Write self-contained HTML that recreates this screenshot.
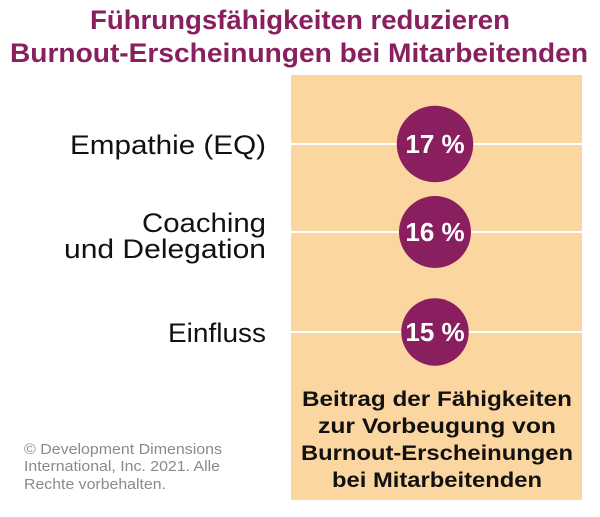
<!DOCTYPE html>
<html><head><meta charset="utf-8"><style>
html,body{margin:0;padding:0;background:#fff;}
svg{display:block;font-family:"Liberation Sans",sans-serif;}
</style></head><body>
<svg id="chart" width="600" height="517" viewBox="0 0 600 517">
<text x="300" y="29" text-anchor="middle" font-size="27" font-weight="bold" fill="#8a1f5f" textLength="420" lengthAdjust="spacingAndGlyphs">Führungsfähigkeiten reduzieren</text>
<text x="299" y="62" text-anchor="middle" font-size="27" font-weight="bold" fill="#8a1f5f" textLength="578" lengthAdjust="spacingAndGlyphs">Burnout-Erscheinungen bei Mitarbeitenden</text>
<rect x="291" y="75" width="291" height="425" fill="#fcd6a0"/>
<g id="rows"></g>
<g font-size="21" font-weight="bold" fill="#111" text-anchor="middle">
<text x="437" y="406" textLength="270" lengthAdjust="spacingAndGlyphs">Beitrag der Fähigkeiten</text>
<text x="437" y="433" textLength="238" lengthAdjust="spacingAndGlyphs">zur Vorbeugung von</text>
<text x="437" y="460" textLength="272" lengthAdjust="spacingAndGlyphs">Burnout-Erscheinungen</text>
<text x="437" y="487" textLength="210" lengthAdjust="spacingAndGlyphs">bei Mitarbeitenden</text>
</g>
<g font-size="15" fill="#8a8a8a">
<text x="24" y="454" textLength="198" lengthAdjust="spacingAndGlyphs">© Development Dimensions</text>
<text x="24" y="471" textLength="196" lengthAdjust="spacingAndGlyphs">International, Inc. 2021. Alle</text>
<text x="24" y="489" textLength="142" lengthAdjust="spacingAndGlyphs">Rechte vorbehalten.</text>
</g>
</svg>
<script>
const categories = [["Empathie (EQ)"], ["Coaching", "und Delegation"], ["Einfluss"]];
const values = [17, 16, 15];
const valueLabels = ["17 %", "16 %", "15 %"];
const rowY = [144, 232, 332];
const labelWidths = [[196], [124, 202], [98]];
const ns = "http://www.w3.org/2000/svg";
const g = document.getElementById('rows');
const rScale = v => v * 2.25;
const cx = 435;
function mk(tag, attrs){const e=document.createElementNS(ns,tag);for(const k in attrs)e.setAttribute(k,attrs[k]);return e;}
categories.forEach((lines, i) => {
  const y = rowY[i];
  const line = mk('line',{x1:291,x2:582,y1:y,y2:y,stroke:'#fff','stroke-width':2});
  
  
  g.appendChild(line);
  const c = mk('circle',{cx:cx,cy:y,r:rScale(values[i]),fill:'#8a1f5f'});
  
  
  g.appendChild(c);
  const t = mk('text',{x:cx,y:y+9,'text-anchor':'middle','font-size':26,'font-weight':'bold',fill:'#fff'});
  t.textContent = valueLabels[i];
  
  
  g.appendChild(t);
  lines.forEach((s, j) => {
    const ly = y + 10 + (j - (lines.length - 1) / 2) * 26 + (lines.length > 1 ? 3 : 0);
    const lt = mk('text',{x:266,y:ly,'text-anchor':'end','font-size':27,fill:'#111',textLength:labelWidths[i][j],lengthAdjust:'spacingAndGlyphs'});
    lt.textContent = s;
    
    
    g.appendChild(lt);
  });
});
</script>
</body></html>
